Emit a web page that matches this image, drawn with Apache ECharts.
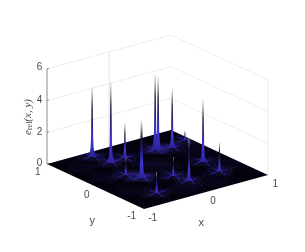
<!DOCTYPE html>
<html><head><meta charset="utf-8">
<style>html,body{margin:0;padding:0;background:#fff}#c{width:305px;height:252px;filter:blur(0.35px)}</style>
<script src="https://cdn.jsdelivr.net/npm/echarts@6/dist/echarts.min.js"></script>
</head><body><div id="c"></div>
<script>
// values
const peakX = [-0.39,-0.33,-0.08,-0.44,-0.35,-0.32, 0.40, 0.44, 0.62, 0.92, 0.625, 0.58, 0.07, 0.02,-0.53];
const peakY = [ 0.85, 0.54, 0.57, 0.09,-0.11,-0.09, 0.56, 0.55, 0.49, 0.61,-0.14,-0.535,-0.56,-0.30,-0.66];
const peakZ = [ 4.40, 5.08, 2.20, 1.10, 3.60, 3.35, 4.75, 4.60, 3.70, 0.60, 3.90, 1.85, 2.70, 1.20, 1.35];
const spikeFrac = [0, 0.03, 0.07, 0.14, 0.28, 0.55, 1];
const spikeHalf = [5.0, 3.2, 2.2, 1.5, 1.1, 0.8, 0.35];
const skirtOffset = [0.13, 0.08, 0.05, 0.025, 0.01, 0];
const skirtHeight = [0, 0.008, 0.02, 0.04, 0.08, 0.14];
const hazeOffset = [-0.16,-0.12,-0.08,-0.04,0,0.04,0.08,0.12,0.16];
const hazeLength = [0.05,0.1,0.16,0.22,0.28,0.22,0.16,0.1,0.05];
const quietX = [-0.75,-0.72,-0.74,-0.18,0.30,0.16,0.14,0.80,0.80,-0.10];
const quietY = [ 0.62, 0.16,-0.38,-0.78,-0.80,0.20,-0.02,0.20,-0.40, 0.22];
const zTicks = [0, 2, 4, 6];

// orthographic view of the box
function project(x, y, z) {
  return [157.5 + 62 * x - 48.5 * y, 169.5 - 17 * x - 22.5 * y - 15.85 * z];
}
const clampU = v => Math.max(-1, Math.min(1, v));
const shapes = [];
const wall = '#e4e4e4';
function line(a, b, color, width, dash) { shapes.push({t:'line', p:[a,b], color, width, dash}); }
zTicks.slice(1).forEach(z => {
  line([-1,1,z],[1,1,z],wall,1,[2,1]);
  line([1,1,z],[1,-1,z],wall,1,[2,1]);
});
line([0,1,0],[0,1,6],'#e2e2e2',1);
line([1,-1,0],[1,-1,6],'#ececec',1);
line([-1,1,0],[-1,1,6],'#8a8a8a',1);
zTicks.forEach(z => line([-1,1,z],[-0.97,1,z],'#8a8a8a',1));

shapes.push({t:'poly', p:[[-1,1,0],[-1,-1,0],[1,-1,0],[1,1,0]], fill:'#04020c'});

function haze(cx, cy, alpha) {
  hazeOffset.forEach((d,k) => {
    const n = hazeLength[k], col = 'rgba(74,60,200,'+alpha+')';
    const yy = cy + d, xx = cx + d;
    if (Math.abs(yy) < 1) line([clampU(cx-n),yy,0.03],[clampU(cx+n),yy,0.03],col,0.8,[1,1.2]);
    if (Math.abs(xx) < 1) line([xx,clampU(cy-n),0.03],[xx,clampU(cy+n),0.03],col,0.8,[1,1.2]);
  });
}
quietX.forEach((x,i) => haze(x, quietY[i], 0.16));
peakX.forEach((x,i) => haze(x, peakY[i], 0.36));

const order = peakX.map((_,i)=>i).sort((a,b)=>project(peakX[a],peakY[a],0)[1]-project(peakX[b],peakY[b],0)[1]);
order.forEach(i => {
  const px = peakX[i], py = peakY[i], pz = peakZ[i];
  [[1,0],[-1,0],[0,1],[0,-1]].forEach(([ux,uy]) => {
    const pts = skirtOffset.map((o,k) => [clampU(px+ux*o), clampU(py+uy*o), pz*skirtHeight[k]]);
    shapes.push({t:'line', p:pts, color:'#3529a8', width:0.8});
  });
  const L = [], R = [];
  spikeFrac.forEach((f,k) => {
    const h = spikeHalf[k] * Math.min(1, 0.5 + pz/6);
    L.push([px-h*0.0101, py+h*0.00766, pz*f]);
    R.push([px+h*0.0101, py-h*0.00766, pz*f]);
  });
  shapes.push({t:'poly', p:L.concat(R.reverse()), gradient:true});
});

const gradient = new echarts.graphic.LinearGradient(0,0,0,1,[
  {offset:0,color:'#c9c9c9'},{offset:0.1,color:'#8a8a8a'},{offset:0.28,color:'#14112a'},
  {offset:0.5,color:'#1e1a70'},{offset:0.75,color:'#4336d6'},{offset:1,color:'#2a2296'}]);

const grey = '#4a4a4a';
const texts = [
  {s:'6',x:39.5,y:67},{s:'4',x:39.5,y:100},{s:'2',x:39.5,y:132},{s:'0',x:39.5,y:163},
  {s:'1',x:37.7,y:172.7},{s:'0',x:86.7,y:195},{s:'-1',x:131.7,y:216.7},
  {s:'-1',x:152.7,y:218},{s:'0',x:213,y:201},{s:'1',x:275.3,y:184},
  {s:'y',x:92.3,y:221,fs:11},{s:'x',x:201.3,y:222.5,fs:11}
];

const chart = echarts.init(document.getElementById('c'), null, {renderer:'canvas'});
chart.setOption({
  animation:false,
  grid:{left:0,top:0,right:0,bottom:0},
  xAxis:{type:'value',min:0,max:305,show:false},
  yAxis:{type:'value',min:0,max:252,inverse:true,show:false},
  series:[{
    type:'custom', coordinateSystem:'cartesian2d', silent:true, clip:false,
    data:shapes.map((s,i)=>[i]),
    renderItem(params, api){
      const s = shapes[params.dataIndex];
      const pts = s.p.map(p => api.coord(project(p[0],p[1],p[2])));
      if (s.t==='line') return {type:'polyline',shape:{points:pts},style:{fill:null,stroke:s.color,lineWidth:s.width,lineDash:s.dash||null}};
      return {type:'polygon',shape:{points:pts},style:{fill:s.gradient?gradient:s.fill}};
    }
  },{
    type:'custom', coordinateSystem:'cartesian2d', silent:true, clip:false,
    data:texts.map((s,i)=>[i]),
    renderItem(params, api){
      const t = texts[params.dataIndex];
      const c = api.coord([t.x,t.y]);
      return {type:'text',x:c[0],y:c[1],style:{text:t.s,fill:grey,font:(t.fs||10)+'px "Liberation Sans"',align:'center',verticalAlign:'middle'}};
    }
  },{
    type:'custom', coordinateSystem:'cartesian2d', silent:true, clip:false,
    data:[[0]],
    renderItem(params, api){
      const c = api.coord([28,117]);
      return {type:'text',x:c[0],y:c[1],rotation:Math.PI/2,style:{
        text:'{a|e}{b|rel}{a|(x, y)}',align:'center',verticalAlign:'middle',
        rich:{a:{font:'italic 11px "Liberation Serif"',fill:grey},b:{font:'8px "Liberation Serif"',fill:grey,verticalAlign:'bottom',padding:[4,0,0,0]}}
      }};
    }
  }]
});
</script></body></html>
